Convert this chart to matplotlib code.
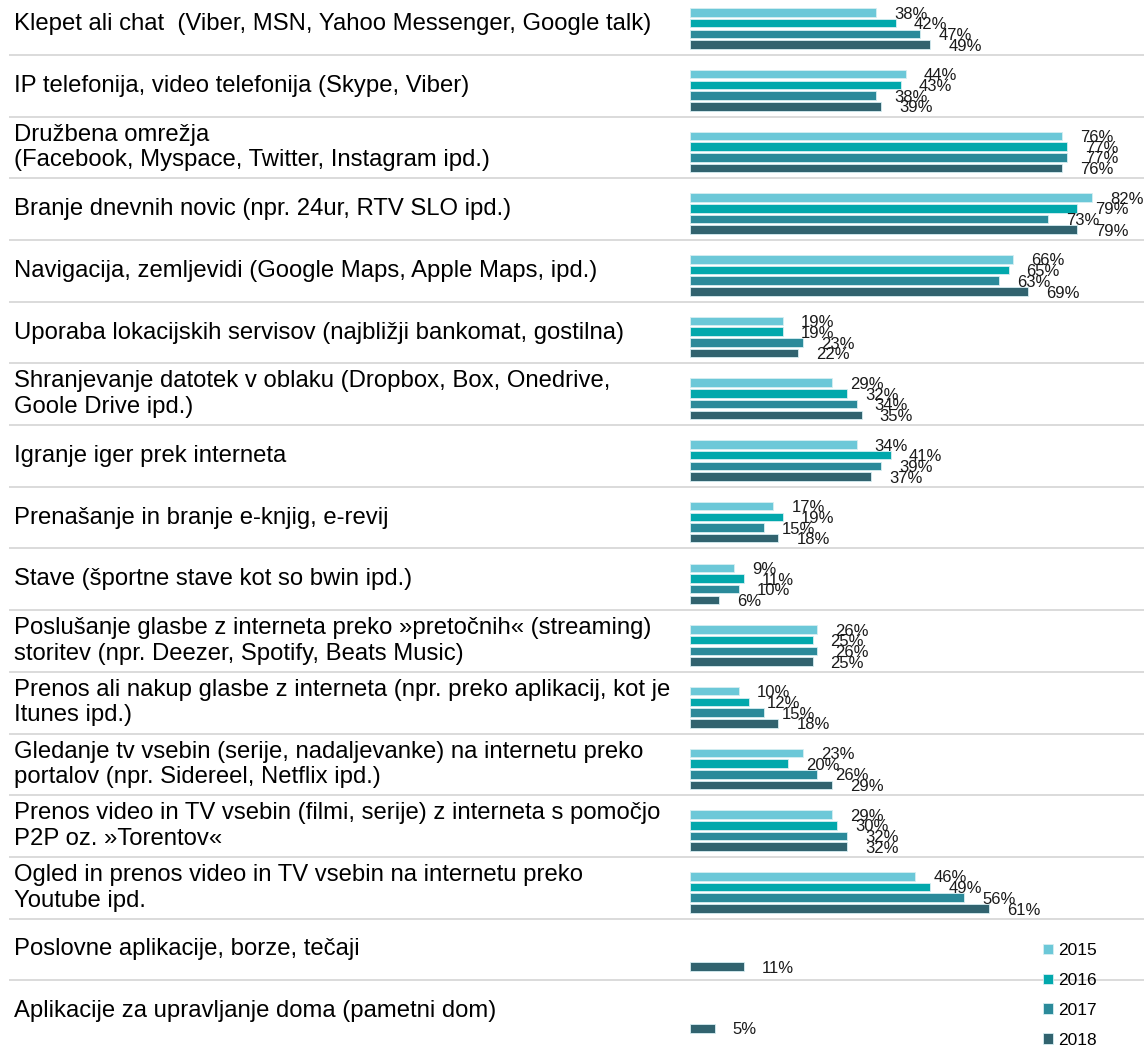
import matplotlib
matplotlib.use("Agg")
import matplotlib.pyplot as plt
from matplotlib.patches import Patch
from matplotlib.transforms import blended_transform_factory
import numpy as np

plt.rcParams['font.family'] = ['Liberation Sans', 'DejaVu Sans']

categories = [
    "Klepet ali chat  (Viber, MSN, Yahoo Messenger, Google talk)",
    "IP telefonija, video telefonija (Skype, Viber)",
    "Družbena omrežja\n(Facebook, Myspace, Twitter, Instagram ipd.)",
    "Branje dnevnih novic (npr. 24ur, RTV SLO ipd.)",
    "Navigacija, zemljevidi (Google Maps, Apple Maps, ipd.)",
    "Uporaba lokacijskih servisov (najbližji bankomat, gostilna)",
    "Shranjevanje datotek v oblaku (Dropbox, Box, Onedrive,\nGoole Drive ipd.)",
    "Igranje iger prek interneta",
    "Prenašanje in branje e-knjig, e-revij",
    "Stave (športne stave kot so bwin ipd.)",
    "Poslušanje glasbe z interneta preko »pretočnih« (streaming)\nstoritev (npr. Deezer, Spotify, Beats Music)",
    "Prenos ali nakup glasbe z interneta (npr. preko aplikacij, kot je\nItunes ipd.)",
    "Gledanje tv vsebin (serije, nadaljevanke) na internetu preko\nportalov (npr. Sidereel, Netflix ipd.)",
    "Prenos video in TV vsebin (filmi, serije) z interneta s pomočjo\nP2P oz. »Torentov«",
    "Ogled in prenos video in TV vsebin na internetu preko\nYoutube ipd.",
    "Poslovne aplikacije, borze, tečaji",
    "Aplikacije za upravljanje doma (pametni dom)",
]

years = ["2015", "2016", "2017", "2018"]
v2015 = [38, 44, 76, 82, 66, 19, 29, 34, 17, 9, 26, 10, 23, 29, 46, None, None]
v2016 = [42, 43, 77, 79, 65, 19, 32, 41, 19, 11, 25, 12, 20, 30, 49, None, None]
v2017 = [47, 38, 77, 73, 63, 23, 34, 39, 15, 10, 26, 15, 26, 32, 56, None, None]
v2018 = [49, 39, 76, 79, 69, 22, 35, 37, 18, 6, 25, 18, 29, 32, 61, 11, 5]
series = [v2015, v2016, v2017, v2018]
colors = ["#6cc8d8", "#02a8ac", "#2b8a9a", "#31636f"]

W, H = 1144, 1051
fig = plt.figure(figsize=(W / 100, H / 100), dpi=100)

pitch = 61.7
y0 = 24.0
x_left = 690
px_per_pct = 4.9
ax = fig.add_axes([x_left / W, 0, (W - x_left) / W, 1])
ax.set_xlim(0, (W - x_left) / px_per_pct)
ax.set_ylim((H - y0) / pitch, (0 - y0) / pitch)
ax.axis("off")

n = len(categories)
bar_h = 8.5 / pitch
shift = 4.5 / pitch
step = 10.7 / pitch
offsets = [shift + (k - 1.5) * step for k in range(4)]

for k, vals in enumerate(series):
    for i, v in enumerate(vals):
        if v is None:
            continue
        yy = i + offsets[k]
        if i >= 15:
            yy = i + 1.0 / pitch + (k - 1.5) * step
        ax.barh(yy, v, height=bar_h, color=colors[k],
                edgecolor="#d6eef2", linewidth=0.6)
        ax.annotate(f"{v}%", xy=(v, yy), xytext=(13, -1.2),
                    textcoords="offset points", ha="left", va="center",
                    fontsize=12, color="#1a1a1a")

# row separators and category labels
tr = blended_transform_factory(fig.transFigure, ax.transData)
for i in range(n):
    ax.text(14 / W, i, categories[i], transform=tr, ha="left", va="center",
            fontsize=17.2, color="#000000", linespacing=1.2, clip_on=False)
    if i < n - 1:
        ax.plot([10 / W, 1.0], [i + 0.5, i + 0.5], transform=tr,
                color="#dadada", linewidth=1.4, clip_on=False)

handles = [Patch(facecolor=c, edgecolor="#d6eef2", linewidth=0.6) for c in colors]
fig.legend(handles, years, loc="upper left",
           bbox_to_anchor=(1043 / W, 1 - 943 / H),
           frameon=False, fontsize=12.5, handlelength=0.55, handleheight=0.55,
           handletextpad=0.3, labelspacing=0.86, borderpad=0, borderaxespad=0)

fig.savefig("out.png", dpi=100)
